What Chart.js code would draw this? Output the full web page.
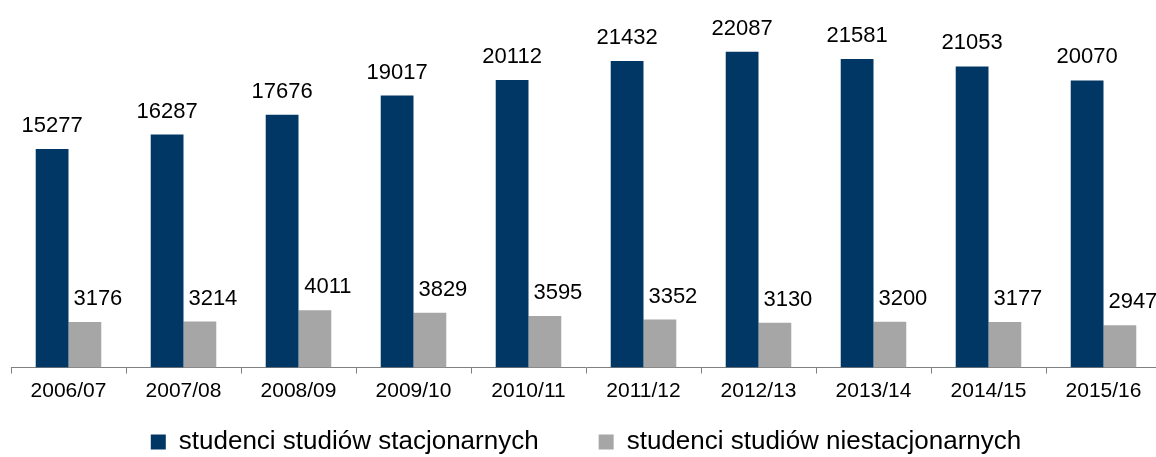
<!DOCTYPE html>
<html><head><meta charset="utf-8">
<script src="https://cdn.jsdelivr.net/npm/chart.js@4"></script>
<style>html,body{margin:0;padding:0;background:#fff;overflow:hidden}#o{width:1156px;height:457px;overflow:hidden}#w{width:1161px;height:457px}</style>
</head><body><div id="o"><div id="w"><canvas id="c"></canvas></div></div>
<script>
const categories = ["2006/07","2007/08","2008/09","2009/10","2010/11","2011/12","2012/13","2013/14","2014/15","2015/16"];
const stacjonarne = [15277,16287,17676,19017,20112,21432,22087,21581,21053,20070];
const niestacjonarne = [3176,3214,4011,3829,3595,3352,3130,3200,3177,2947];
const seriesNames = ["studenci studiów stacjonarnych","studenci studiów niestacjonarnych"];

const FONT = '"Liberation Sans", Arial, sans-serif';

const labelPlugin = {
  id: 'vals',
  afterLayout(chart) {
    // let the x tick labels extend below the (thin) axis box without being clipped
    const x = chart.scales.x;
    x.bottom = x.top + 45;
  },
  afterDatasetsDraw(chart) {
    const ctx = chart.ctx;
    ctx.save();
    ctx.font = '22px ' + FONT;
    ctx.fillStyle = '#000';
    ctx.textAlign = 'center';
    ctx.textBaseline = 'alphabetic';
    chart.data.datasets.forEach((ds, di) => {
      const meta = chart.getDatasetMeta(di);
      meta.data.forEach((bar, i) => {
        const dx = di === 1 ? 13 : 0;
        ctx.fillText(String(ds.data[i]), bar.x + dx, bar.y - 17);
      });
    });
    ctx.restore();
  }
};

new Chart(document.getElementById('c'), {
  type: 'bar',
  data: {
    labels: categories,
    datasets: [
      {label: seriesNames[0], data: stacjonarne, backgroundColor: '#003764'},
      {label: seriesNames[1], data: niestacjonarne, backgroundColor: '#a6a6a6'}
    ]
  },
  options: {
    responsive: true, maintainAspectRatio: false, animation: false,
    layout: {padding: {left: 11, right: 0, top: 10, bottom: -8}},
    datasets: {bar: {categoryPercentage: 0.57, barPercentage: 1.0}},
    scales: {
      x: {
        grid: {offset: true, drawOnChartArea: false, color: '#808080', tickLength: 6, tickColor: '#808080'},
        border: {color: '#808080', width: 1},
        ticks: {color: '#000', font: {size: 21, family: FONT}, padding: 5},
        afterFit(scale) { scale.height = 1.5; }
      },
      y: {display: false, min: 0, max: 25000}
    },
    plugins: {
      legend: {
        position: 'bottom',
        labels: {boxWidth: 15, boxHeight: 15, padding: 60, color: '#000',
          font: {size: 26, family: FONT}}
      },
      tooltip: {enabled: false}
    }
  },
  plugins: [labelPlugin]
});
</script>
</body></html>
